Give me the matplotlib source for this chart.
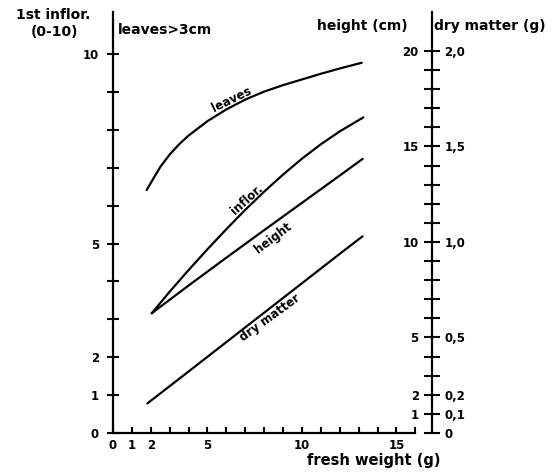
import matplotlib.pyplot as plt
import numpy as np
from matplotlib.ticker import FixedLocator, FixedFormatter

plt.rcParams['font.family'] = ['DejaVu Sans']
plt.rcParams['font.weight'] = 'bold'
plt.rcParams['axes.labelweight'] = 'bold'

# fresh weight (g) vs. leaves > 3 cm
leaves_x = [1.78, 2.0, 2.5, 3.0, 3.5, 4.0, 5.0, 6.0, 7.0, 8.0, 9.0, 10.0, 11.0, 12.0, 13.16]
leaves_y = [6.41, 6.60, 7.02, 7.35, 7.62, 7.85, 8.23, 8.54, 8.80, 9.01, 9.18, 9.33, 9.48, 9.62, 9.77]

# fresh weight (g) vs. 1st inflorescence (0-10)
inflor_x = [2.05, 3.0, 4.0, 5.0, 6.0, 7.0, 8.0, 9.0, 10.0, 11.0, 12.0, 13.25]
inflor_y = [3.16, 3.73, 4.30, 4.85, 5.38, 5.89, 6.37, 6.82, 7.24, 7.62, 7.96, 8.33]

# fresh weight (g) vs. height (cm)
height_x = [2.05, 4.0, 6.0, 8.0, 10.0, 12.0, 13.21]
height_y = [6.27, 7.72, 9.18, 10.62, 12.05, 13.48, 14.35]

# fresh weight (g) vs. dry matter (g)
dry_x = [1.82, 4.0, 6.0, 8.0, 10.0, 12.0, 13.21]
dry_y = [0.155, 0.322, 0.476, 0.630, 0.784, 0.938, 1.03]

x_ticks = list(range(0, 17))
x_labels = {0: '0', 1: '1', 2: '2', 5: '5', 10: '10', 15: '15'}
left_ticks = list(range(0, 11))
left_labels = {0: '0', 1: '1', 2: '2', 5: '5', 10: '10'}
height_ticks = list(range(0, 21))
height_labels = {1: '1', 2: '2', 5: '5', 10: '10', 15: '15', 20: '20'}
dry_ticks = [0, 0.1, 0.2, 0.5, 1.0, 1.5, 2.0]
dry_labels = ['0', '0,1', '0,2', '0,5', '1,0', '1,5', '2,0']

fs_tick = 8.5
fs_head = 10

fig = plt.figure(figsize=(5.53, 4.74), dpi=100)
ax = fig.add_axes([113 / 553, 41 / 474, 319 / 553, 421 / 474])
ax.set_xlim(0, 16.88)
ax.set_ylim(0, 11.11)

lw = 1.6
for s in ['top', 'right']:
    ax.spines[s].set_visible(False)
ax.spines['left'].set_linewidth(lw)
ax.spines['bottom'].set_linewidth(lw)
ax.spines['bottom'].set_bounds(0, 16)

ax.xaxis.set_major_locator(FixedLocator(x_ticks))
ax.xaxis.set_major_formatter(FixedFormatter([x_labels.get(t, '') for t in x_ticks]))
ax.tick_params(axis='x', direction='in', length=4, width=1.5, pad=4, labelsize=fs_tick)
ax.yaxis.set_major_locator(FixedLocator(left_ticks))
ax.yaxis.set_major_formatter(FixedFormatter([left_labels.get(t, '') for t in left_ticks]))
ax.tick_params(axis='y', direction='inout', length=9, width=1.5, pad=5.5, labelsize=fs_tick)

# height scale, drawn on the left side of the right-hand axis
ax_h = ax.twinx()
ax_h.set_ylim(0, 22.04)
for s in ['top', 'bottom', 'right']:
    ax_h.spines[s].set_visible(False)
ax_h.spines['left'].set_position(('axes', 1.0))
ax_h.spines['left'].set_linewidth(lw)
ax_h.yaxis.tick_left()
ax_h.yaxis.set_major_locator(FixedLocator(height_ticks))
ax_h.yaxis.set_major_formatter(FixedFormatter([height_labels.get(t, '') for t in height_ticks]))
ax_h.tick_params(axis='y', direction='inout', length=11, width=1.5, pad=4, labelsize=fs_tick)

# dry matter scale on the right side
ax_dm = ax.twinx()
ax_dm.set_ylim(0, 2.204)
for s in ['top', 'bottom', 'left', 'right']:
    ax_dm.spines[s].set_visible(False)
ax_dm.yaxis.set_major_locator(FixedLocator(dry_ticks))
ax_dm.yaxis.set_major_formatter(FixedFormatter(dry_labels))
ax_dm.tick_params(axis='y', length=0, pad=9, labelsize=fs_tick)

ax.plot(leaves_x, leaves_y, color='black', lw=1.6, solid_capstyle='round')
ax.plot(inflor_x, inflor_y, color='black', lw=1.6, solid_capstyle='round')
ax_h.plot(height_x, height_y, color='black', lw=1.6, solid_capstyle='round')
ax_dm.plot(dry_x, dry_y, color='black', lw=1.6, solid_capstyle='round')

# curve labels
def curve_label(a, xs, ys, x, text, rot, dy):
    y = np.interp(x, xs, ys)
    a.annotate(text, xy=(x, y), xytext=(0, dy), textcoords='offset points',
               rotation=rot, ha='center', va='center', rotation_mode='anchor',
               fontsize=fs_tick)

curve_label(ax, leaves_x, leaves_y, 6.3, 'leaves', 26, 5)
curve_label(ax, inflor_x, inflor_y, 7.1, 'inflor.', 42, 6)
curve_label(ax_h, height_x, height_y, 8.47, 'height', 37, -10)
curve_label(ax_dm, dry_x, dry_y, 8.31, 'dry matter', 36, -7)

ax.set_xlabel('fresh weight (g)', fontsize=10.5, fontweight='bold')
ax.xaxis.set_label_coords(0.818, -0.048)

fig.text(53 / 553, 1 - 15 / 474, '1st inflor.', ha='center', va='center', fontsize=fs_head)
fig.text(55 / 553, 1 - 32 / 474, '(0-10)', ha='center', va='center', fontsize=fs_head)
fig.text(118 / 553, 1 - 30 / 474, 'leaves>3cm', ha='left', va='center', fontsize=fs_head)
fig.text(408 / 553, 1 - 26 / 474, 'height (cm)', ha='right', va='center', fontsize=fs_head)
fig.text(434 / 553, 1 - 26 / 474, 'dry matter (g)', ha='left', va='center', fontsize=fs_head)

fig.savefig('out.png', dpi=100)
